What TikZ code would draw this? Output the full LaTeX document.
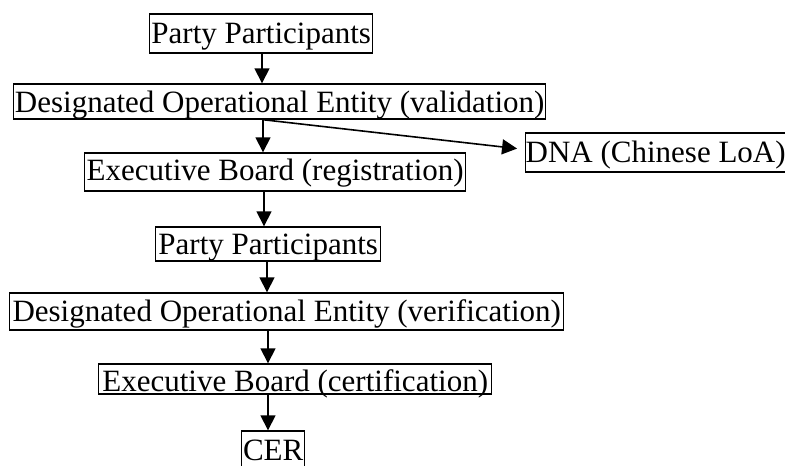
\documentclass[tikz,border=0pt]{standalone}
\usepackage{fontspec}
\setmainfont{Liberation Serif}
\usetikzlibrary{arrows.meta}
\begin{document}
\begin{tikzpicture}[x=1pt,y=1pt,
  box/.style={draw, line width=1.4pt, anchor=base west, inner xsep=0pt, inner ysep=0pt,
              font=\fontsize{31}{36}\selectfont},
  arr/.style={line width=1.6pt, -{Triangle[length=15pt,width=15pt]}}]
\useasboundingbox (0,0) rectangle (785,466);
% flow boxes: anchored at the text baseline, sized by text height/depth
\node[box, text height=30pt, text depth=9pt, minimum width=223pt] (pp1) at (149,422) {Party Participants};
\node[box, text height=29pt, text depth=6pt, minimum width=532pt] (doe1) at (13,353) {Designated Operational Entity (validation)};
\node[box, text height=28pt, text depth=10pt, minimum width=381pt] (eb1) at (84,285) {Executive Board (registration)};
\node[box, text height=30pt, text depth=9pt, minimum width=257pt] (dna) at (525,303) {DNA (Chinese LoA)};
\node[box, text height=28pt, text depth=6pt, minimum width=225pt] (pp2) at (155,211) {Party Participants};
\node[box, text height=29pt, text depth=8pt, minimum width=554pt] (doe2) at (9,144) {Designated Operational Entity (verification)};
\node[box, text height=28pt, text depth=2pt, minimum width=393pt] (eb2) at (98,74) {Executive Board (certification)};
\node[box, text height=30pt, text depth=8pt, minimum width=63pt] (cer) at (241,5) {CER};
% x positions of the vertical connectors
\coordinate (xa) at (262,0);
\coordinate (xb) at (263,0);
\coordinate (xc) at (264,0);
\coordinate (xd) at (267,0);
\coordinate (xe) at (268,0);
\draw[arr] (pp1.south -| xa) -- (doe1.north -| xa);
\draw[arr] (doe1.south -| xb) -- (eb1.north -| xb);
\draw[arr] (doe1.south -| xb) -- ([yshift=3pt]dna.west) [shorten >=8pt];
\draw[arr] (eb1.south -| xc) -- (pp2.north -| xc);
\draw[arr] (pp2.south -| xd) -- (doe2.north -| xd);
\draw[arr] (doe2.south -| xe) -- (eb2.north -| xe);
\draw[arr] (eb2.south -| xe) -- (cer.north -| xe);
\end{tikzpicture}
\end{document}
